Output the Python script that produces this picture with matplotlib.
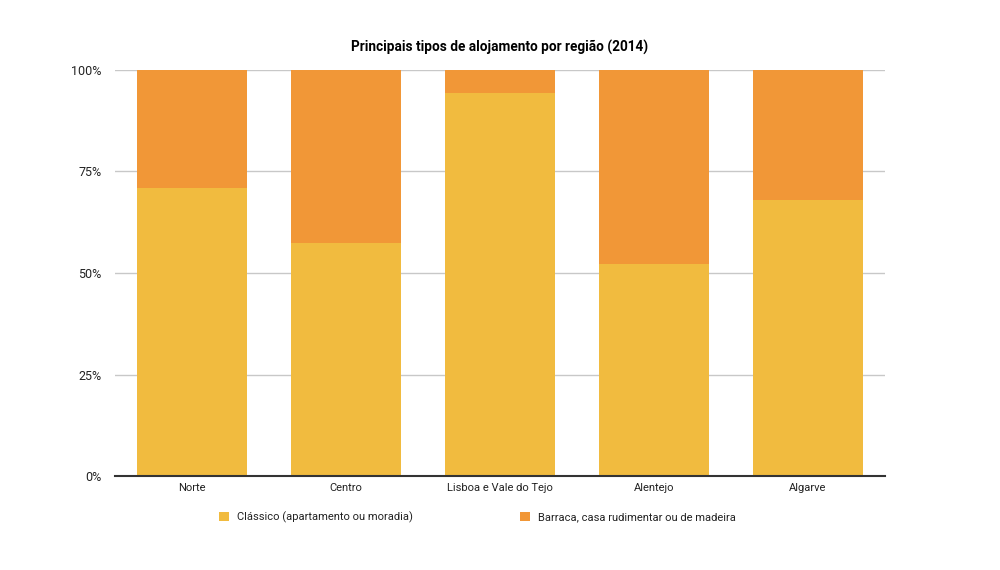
import matplotlib
matplotlib.use("Agg")
import matplotlib.pyplot as plt
from matplotlib.patches import Patch
from matplotlib.ticker import FuncFormatter

categories = ["Norte", "Centro", "Lisboa e Vale do Tejo", "Alentejo", "Algarve"]
classico = [70.9, 57.4, 94.3, 52.2, 68.0]
barraca = [29.1, 42.6, 5.7, 47.8, 32.0]
series_names = ["Clássico (apartamento ou moradia)", "Barraca, casa rudimentar ou de madeira"]
colors = ["#F1BB3F", "#F19737"]

plt.rcParams['font.family'] = ['Roboto', 'DejaVu Sans']

fig = plt.figure(figsize=(10, 5.7), dpi=100)
ax = fig.add_axes([0.115, 0.1649, 0.77, 0.7123])

x = list(range(len(categories)))
w = 0.714
ax.bar(x, classico, width=w, color=colors[0], zorder=2)
ax.bar(x, barraca, width=w, bottom=classico, color=colors[1], zorder=2)

ax.set_xlim(-0.5, len(categories) - 0.5)
ax.set_ylim(0, 100)
ax.set_yticks([0, 25, 50, 75, 100])
ax.yaxis.set_major_formatter(FuncFormatter(lambda v, p: f"{int(v)}%"))
ax.grid(axis='y', color='#c8c8c8', linewidth=1, zorder=0)
ax.set_xticks(x)
ax.set_xticklabels(categories)
for s in ['top', 'right', 'left']:
    ax.spines[s].set_visible(False)
ax.spines['bottom'].set_color('#333333')
ax.spines['bottom'].set_linewidth(1.5)
ax.spines['bottom'].set_zorder(3)
ax.tick_params(axis='both', length=0, colors='#222222')
ax.tick_params(axis='x', labelsize=8, pad=5)
ax.tick_params(axis='y', labelsize=9, pad=9.5)

fig.text(0.5, 0.917, "Principais tipos de alojamento por região (2014)",
         ha='center', va='center', fontsize=9.8, fontweight='bold', color='#000000')

handles = [Patch(facecolor=colors[0]), Patch(facecolor=colors[1])]
leg = fig.legend(handles, series_names, loc='center', bbox_to_anchor=(0.4775, 0.093),
                 ncol=2, frameon=False, fontsize=8, columnspacing=9.6,
                 handlelength=0.9, handleheight=0.9, handletextpad=0.72)
for t in leg.get_texts():
    t.set_color('#222222')

fig.savefig("out.png", dpi=100)
